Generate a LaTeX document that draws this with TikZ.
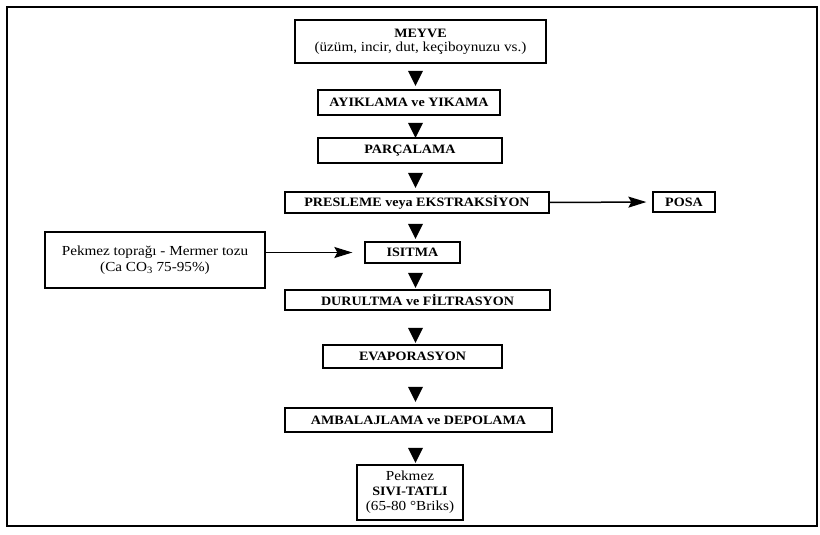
\documentclass[tikz,border=0pt]{standalone}
\usepackage{fontspec}
\setmainfont{Liberation Serif}[FakeStretch=1.1]
\usetikzlibrary{shapes.geometric,arrows.meta}
\begin{document}
\begin{tikzpicture}[x=1pt,y=-1pt,
  box/.style={draw,line width=1.3pt,inner sep=0pt,align=center,font=\fontsize{12.8}{14}\selectfont\bfseries},
  sidebox/.style={draw,line width=1.3pt,inner sep=0pt,align=center,font=\fontsize{13.8}{16}\selectfont},
  tri/.style={isosceles triangle,isosceles triangle stretches,shape border rotate=-90,
    minimum width=15pt,minimum height=15pt,fill=black,inner sep=0pt},
  side/.style={line width=1.5pt,-{Stealth[length=18pt,width=11pt,inset=3pt]}}]
\useasboundingbox (0,0) rectangle (820,535);
\draw[line width=1.5pt] (7,7) rectangle (817,526);

\node[box,minimum width=251pt,minimum height=43pt] (meyve) at (420.5,41.5)
  {MEYVE\\{\mdseries\fontsize{13.8}{14}\selectfont (üzüm, incir, dut, keçiboynuzu vs.)}};
\node[box,minimum width=182pt,minimum height=25pt] (ayik) at (409,102.5) {AYIKLAMA ve YIKAMA};
\node[box,minimum width=184pt,minimum height=25pt] (parc) at (410,150.5) {PARÇALAMA};
\node[box,minimum width=264pt,minimum height=21pt] (pres) at (417,202.5) {PRESLEME veya EKSTRAKSİYON};
\node[box,minimum width=95pt,minimum height=21pt] (isit) at (412.5,252.5) {ISITMA};
\node[box,minimum width=265pt,minimum height=20pt] (dur) at (417.5,300) {DURULTMA ve FİLTRASYON};
\node[box,minimum width=179pt,minimum height=23pt] (evap) at (412.5,356.5) {EVAPORASYON};
\node[box,minimum width=267pt,minimum height=24pt] (amb) at (418.5,420) {AMBALAJLAMA ve DEPOLAMA};
\node[box,font=\fontsize{12.8}{15}\selectfont\bfseries,minimum width=106pt,minimum height=55pt] (pek) at (410,492.5)
  {{\mdseries\fontsize{13.8}{15}\selectfont Pekmez}\\SIVI-TATLI\\{\mdseries\fontsize{13.8}{15}\selectfont (65-80 °Briks)}};
\node[sidebox,minimum width=220pt,minimum height=56pt] (topr) at (155,260)
  {Pekmez toprağı - Mermer tozu\\(Ca CO\textsubscript{3} 75-95\%)};
\node[box,minimum width=62pt,minimum height=20pt] (posa) at (684,202) {POSA};

\node[tri] (t1) at (415.5,75.5) {};
\node[tri] (t2) at (415.5,127.5) {};
\node[tri] (t3) at (415.5,177.5) {};
\node[tri] (t4) at (415.5,228.5) {};
\node[tri] (t5) at (415.5,277.5) {};
\node[tri] (t6) at (415.5,332.5) {};
\node[tri] (t7) at (415.5,391.5) {};
\node[tri] (t8) at (415.5,452.5) {};

\draw[side,shorten >=6pt] (pres.east) -- (posa.west);
\draw[side,shorten >=12pt] (isit.west -| topr.east) -- (isit.west);
\end{tikzpicture}
\end{document}
